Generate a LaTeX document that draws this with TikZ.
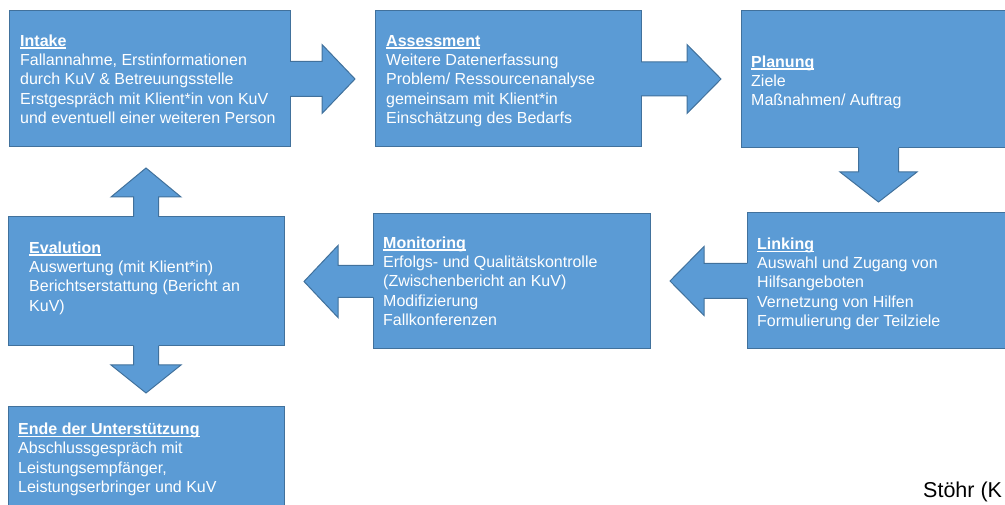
\documentclass[tikz,border=0pt]{standalone}
\usepackage{fontspec}
\setmainfont{Liberation Sans}
\usetikzlibrary{calc}
\definecolor{boxblue}{RGB}{91,155,213}
\definecolor{boxline}{RGB}{65,113,156}
\newcommand{\uheading}[1]{\setbox0=\hbox{\bfseries #1}\rule{0pt}{13pt}\rlap{\rule[-2.6pt]{\wd0}{1.3pt}}\box0}
% #1 start, #2 angle, #3 head base, #4 tip, #5 shaft half width, #6 head half width
\newcommand{\blockarrow}[6]{%
  \begin{scope}[shift={(#1)},rotate=#2]
    \fill[boxblue] (-2,#5) -- (#3,#5) -- (#3,#6) -- (#4,0) -- (#3,-#6) -- (#3,-#5) -- (-2,-#5) -- cycle;
    \draw[arrowline] (0,#5) -- (#3,#5) -- (#3,#6) -- (#4,0) -- (#3,-#6) -- (#3,-#5) -- (0,-#5);
  \end{scope}}
\tikzset{
  box/.style={draw=boxline, fill=boxblue, line width=1pt, inner sep=0pt, outer sep=0pt, anchor=north west},
  arrowline/.style={draw=boxline, line width=1pt, line join=miter},
  txt/.style={text=white, align=left, anchor=north west, inner sep=0pt, font=\fontsize{16}{19.4}\selectfont},
}
\begin{document}
\begin{tikzpicture}[x=1pt,y=1pt]
\useasboundingbox (0,0) rectangle (1005,504);
\clip (0,0) rectangle (1005,504);
% boxes
\node[box, minimum width=281, minimum height=136] (intake) at (9,493) {};
\node[box, minimum width=266, minimum height=136] (assessment) at (375,493) {};
\node[box, minimum width=300, minimum height=137] (planung) at (741,493) {};
\node[box, minimum width=300, minimum height=136] (linking) at (747,291) {};
\node[box, minimum width=277, minimum height=135] (monitoring) at (373,290) {};
\node[box, minimum width=276, minimum height=129] (evalution) at (8,287) {};
\node[box, minimum width=276, minimum height=120] (ende) at (8,97) {};
\coordinate (planungout) at ($(planung.south west)+(137.5,0)$);
% block arrows
\blockarrow{intake.east}{0}{32}{65}{17.5}{34.5}
\blockarrow{assessment.east}{0}{46}{80}{17}{34.5}
\blockarrow{planungout}{-90}{24}{54}{20}{38.5}
\blockarrow{linking.west}{180}{43}{77}{17.5}{34.5}
\blockarrow{monitoring.west}{180}{35}{69}{16}{36}
\blockarrow{evalution.north}{90}{20}{49}{12.5}{35}
\blockarrow{evalution.south}{-90}{19}{47}{12.5}{35}
% texts
\node[txt] (intaketext) at (20,471) {\uheading{Intake}\\Fallannahme, Erstinformationen\\durch KuV \& Betreuungsstelle\\Erstgespräch mit Klient*in von KuV\\und eventuell einer weiteren Person};
\node[txt] (assessmenttext) at (386,471) {\uheading{Assessment}\\Weitere Datenerfassung\\Problem/ Ressourcenanalyse\\gemeinsam mit Klient*in\\Einschätzung des Bedarfs};
\node[txt] (planungtext) at (751,450) {\uheading{Planung}\\Ziele\\Maßnahmen/ Auftrag};
\node[txt] (linkingtext) at (757,268) {\uheading{Linking}\\Auswahl und Zugang von\\Hilfsangeboten\\Vernetzung von Hilfen\\Formulierung der Teilziele};
\node[txt] (monitoringtext) at (383,269) {\uheading{Monitoring}\\Erfolgs- und Qualitätskontrolle\\(Zwischenbericht an KuV)\\Modifizierung\\Fallkonferenzen};
\node[txt] (evalutiontext) at (29,264) {\uheading{Evalution}\\Auswertung (mit Klient*in)\\Berichtserstattung (Bericht an\\KuV)};
\node[txt] (endetext) at (18,83) {\uheading{Ende der Unterstützung}\\Abschlussgespräch mit\\Leistungsempfänger,\\Leistungserbringer und KuV};
\node[anchor=base west, inner sep=0pt, font=\fontsize{21.5}{25}\selectfont] (source) at (923,7) {Stöhr (K};
\end{tikzpicture}
\end{document}
